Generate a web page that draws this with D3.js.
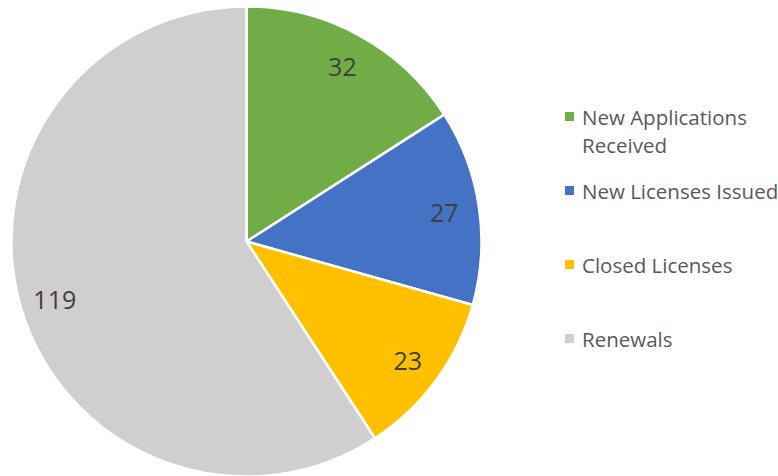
<!DOCTYPE html>
<html>
<head>
<meta charset="utf-8">
<script src="https://cdn.jsdelivr.net/npm/d3@7"></script>
<style>
  html, body { margin: 0; padding: 0; background: #ffffff; }
  svg { display: block; }
</style>
</head>
<body>
<svg id="chart" width="778" height="476"></svg>
<script>
// License activity breakdown
const categories = ["New Applications Received", "New Licenses Issued", "Closed Licenses", "Renewals"];
const values = [32, 27, 23, 119];
const colors = ["#70AD47", "#4472C4", "#FFC000", "#D0CECE"];

const W = 778, H = 476;
const cx = 246.5, cy = 241.5, R = 235;
const fontFamily = "'Open Sans', 'Noto Sans', sans-serif";

const svg = d3.select("#chart");

const data = categories.map((c, i) => ({ category: c, value: values[i], color: colors[i] }));

const pie = d3.pie().value(d => d.value).sort(null);
const arc = d3.arc().innerRadius(0).outerRadius(R);
const labelArc = d3.arc().innerRadius(200).outerRadius(200);

const g = svg.append("g").attr("transform", `translate(${cx},${cy})`);
const arcs = pie(data);

g.selectAll("path.slice")
  .data(arcs)
  .join("path")
  .attr("class", "slice")
  .attr("d", arc)
  .attr("fill", d => d.data.color)
  .attr("stroke", "#ffffff")
  .attr("stroke-width", 2.5)
  .attr("stroke-linejoin", "round");

g.selectAll("text.value")
  .data(arcs)
  .join("text")
  .attr("class", "value")
  .attr("transform", d => `translate(${labelArc.centroid(d)})`)
  .attr("text-anchor", "middle")
  .attr("dominant-baseline", "central")
  .attr("font-family", fontFamily)
  .attr("font-size", 25)
  .attr("fill", "#404040")
  .text(d => d.data.value);

// Legend
const legendX = 565, textX = 582, maxTextW = 197, lineH = 28;
const legendY = d3.scaleLinear().domain([0, categories.length - 1]).range([116.5, 338.5]);

const legend = svg.append("g").attr("class", "legend");
const items = legend.selectAll("g.item")
  .data(data)
  .join("g")
  .attr("class", "item")
  .attr("transform", (d, i) => `translate(0,${legendY(i)})`);

items.append("rect")
  .attr("x", legendX)
  .attr("y", -4.5)
  .attr("width", 9)
  .attr("height", 9)
  .attr("fill", d => d.color);

items.each(function(d) {
  const t = d3.select(this).append("text")
    .attr("x", textX)
    .attr("y", 8)
    .attr("font-family", fontFamily)
    .attr("font-size", 20.5)
    .attr("fill", "#595959");
  const words = d.category.split(" ");
  let line = [];
  let tspan = t.append("tspan").attr("x", textX).attr("dy", 0);
  let lineNo = 0;
  words.forEach(w => {
    line.push(w);
    tspan.text(line.join(" "));
    if (tspan.node().getComputedTextLength() > maxTextW && line.length > 1) {
      line.pop();
      tspan.text(line.join(" "));
      line = [w];
      lineNo++;
      tspan = t.append("tspan").attr("x", textX).attr("dy", lineH).text(w);
    }
  });
});
</script>
</body>
</html>
